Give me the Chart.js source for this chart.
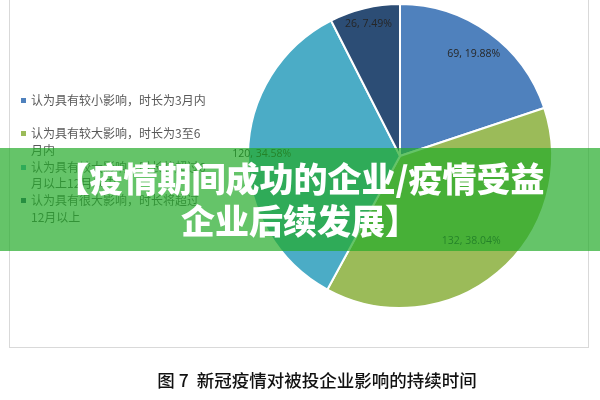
<!DOCTYPE html>
<html>
<head>
<meta charset="utf-8">
<script src="https://cdn.jsdelivr.net/npm/chart.js@4/dist/chart.umd.min.js"></script>
<style>
  html, body { margin: 0; padding: 0; background: #fff; }
  #wrap { position: relative; width: 600px; height: 400px; overflow: hidden; font-family: "Noto Sans CJK SC", sans-serif; }
  #frame { position: absolute; left: 9px; top: -2px; width: 580px; height: 350px; border: 1px solid #d9d9d9; box-sizing: border-box; }
  #chart { position: absolute; left: 0; top: 0; width: 600px; height: 400px; }
  #legend { position: absolute; left: 20px; top: 91.6px; width: 200px; color: #595959; font-size: 12px; }
  .item { position: relative; height: 33.5px; line-height: 16.75px; padding-left: 11px; white-space: nowrap; }
  .sw { position: absolute; left: 1px; top: 6px; width: 5px; height: 5px; }
  #banner { position: absolute; left: 0; top: 148px; width: 600px; height: 103px; background: rgba(36,171,42,0.7);
            display: flex; flex-direction: column; align-items: center; justify-content: center;
            color: #fff; font-size: 34px; font-weight: 900; line-height: 42px; z-index: 5; padding-bottom: 2px; box-sizing: border-box; }
  #banner div { white-space: nowrap; }
  #caption { position: absolute; left: 0; width: 634px; top: 367px; text-align: center; font-size: 17.5px; color: #111; font-weight: 500; white-space: pre; }
</style>
</head>
<body>
<div id="wrap">
  <div id="frame"></div>
  <canvas id="chart" width="600" height="400"></canvas>
  <div id="legend"></div>
  <div id="banner"></div>
  <div id="caption"></div>
</div>
<script>
const categories = [
  ["认为具有较小影响，时长为3月内"],
  ["认为具有较大影响，时长为3至6", "月内"],
  ["认为具有较大影响，时长将超过6", "月以上12月以内"],
  ["认为具有很大影响，时长将超过", "12月以上"]
];
const values = [69, 132, 120, 26];
const colors = ["#4F81BD", "#9BBB59", "#4BACC6", "#2C4D75"];
const bannerLines = ["【疫情期间成功的企业/疫情受益", "企业后续发展】"];
const captionText = "图 7  新冠疫情对被投企业影响的持续时间";

// legend
const legend = document.getElementById('legend');
categories.forEach((lines, i) => {
  const d = document.createElement('div');
  d.className = 'item';
  const sw = document.createElement('span');
  sw.className = 'sw';
  sw.style.background = colors[i];
  d.appendChild(sw);
  lines.forEach((t, k) => {
    if (k) d.appendChild(document.createElement('br'));
    d.appendChild(document.createTextNode(t));
  });
  legend.appendChild(d);
});
// banner
const banner = document.getElementById('banner');
bannerLines.forEach(t => { const s = document.createElement('div'); s.textContent = t; banner.appendChild(s); });
document.getElementById('caption').textContent = captionText;

const total = values.reduce((a, b) => a + b, 0);
const labelRadius = [0.83, 0.73, 0.91, 0.89];

const dataLabels = {
  id: 'dataLabels',
  afterDatasetsDraw(chart) {
    const ctx = chart.ctx;
    const meta = chart.getDatasetMeta(0);
    ctx.save();
    ctx.font = '10.5px "Open Sans", sans-serif';
    ctx.fillStyle = '#262626';
    ctx.textAlign = 'center';
    ctx.textBaseline = 'middle';
    meta.data.forEach((arc, i) => {
      const p = arc.getProps(['x', 'y', 'startAngle', 'endAngle', 'outerRadius'], true);
      const mid = (p.startAngle + p.endAngle) / 2;
      const r = p.outerRadius * labelRadius[i];
      const v = values[i];
      const txt = v + ', ' + (v / total * 100).toFixed(2) + '%';
      ctx.fillText(txt, p.x + Math.cos(mid) * r, p.y + Math.sin(mid) * r);
    });
    ctx.restore();
  }
};

new Chart(document.getElementById('chart'), {
  type: 'pie',
  data: {
    labels: categories.map(l => l.join('')),
    datasets: [{
      data: values,
      backgroundColor: colors,
      borderColor: '#ffffff',
      borderWidth: 2
    }]
  },
  options: {
    responsive: false,
    animation: false,
    layout: { padding: { left: 247, right: 47, top: 3, bottom: 91 } },
    plugins: { legend: { display: false }, tooltip: { enabled: false } }
  },
  plugins: [dataLabels]
});
</script>
</body>
</html>
